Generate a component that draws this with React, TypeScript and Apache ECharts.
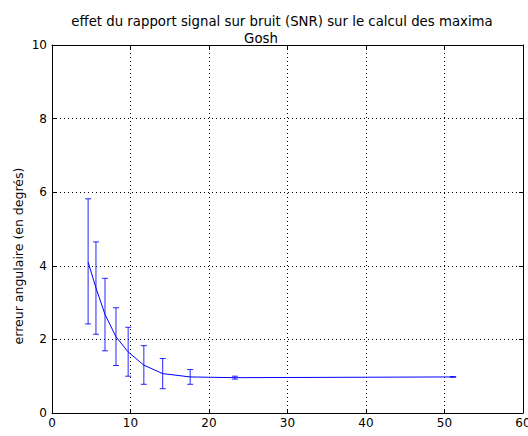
import React, { useEffect, useRef } from "react";
import * as echarts from "echarts";

const snr = [4.6, 5.6, 6.75, 8.15, 9.7, 11.7, 14.1, 17.6, 23.3, 51.1];
const meanErr = [4.1, 3.4, 2.68, 2.07, 1.66, 1.3, 1.07, 0.98, 0.96, 0.98];
const errLow = [2.42, 2.14, 1.69, 1.29, 1.0, 0.78, 0.66, 0.78, 0.92, 0.97];
const errHigh = [5.82, 4.65, 3.66, 2.86, 2.33, 1.83, 1.48, 1.18, 1.0, 0.99];
const xTicks = [0, 10, 20, 30, 40, 50, 60];
const yTicks = [0, 2, 4, 6, 8, 10];

const FONT = "DejaVu Sans";

export default function App() {
  const ref = useRef<HTMLDivElement>(null);
  useEffect(() => {
    const chart = echarts.init(ref.current!, null, { renderer: "svg" });
    const lineData = snr.map((x, i) => [x, meanErr[i]]);
    const errData = snr.map((x, i) => [x, errLow[i], errHigh[i]]);
    const axisCommon = {
      axisLine: { show: true, onZero: false, lineStyle: { color: "#000", width: 1 } },
      axisTick: { show: true, inside: true, length: 4, lineStyle: { color: "#000" } },
    };
    chart.setOption({
      animation: false,
      backgroundColor: "#fff",
      title: [
        {
          text: "effet du rapport signal sur bruit (SNR) sur le calcul des maxima",
          left: 282,
          top: 15,
          padding: 0,
          textAlign: "center",
          textStyle: { fontFamily: FONT, fontSize: 13.3, fontWeight: "normal", color: "#000" },
        },
        {
          text: "Gosh",
          left: 261,
          top: 31.5,
          padding: 0,
          textAlign: "center",
          textStyle: { fontFamily: FONT, fontSize: 13.3, fontWeight: "normal", color: "#000" },
        },
      ],
      graphic: [
        {
          type: "text",
          x: 18,
          y: 256,
          rotation: Math.PI / 2,
          style: {
            text: "erreur angulaire (en degrés)",
            fontFamily: FONT,
            fontSize: 12.5,
            fill: "#000",
            align: "center",
            verticalAlign: "middle",
          },
        },
      ],
      grid: { left: 52, top: 45, right: 5, bottom: 23, containLabel: false, outerBoundsMode: "none" },
      xAxis: [
        {
          type: "value",
          min: 0,
          max: 60,
          interval: 10,
          name: "SNR",
          nameLocation: "middle",
          nameGap: 17,
          nameTextStyle: { fontFamily: FONT, fontSize: 12.5, color: "#000", verticalAlign: "top" },
          ...axisCommon,
          axisLabel: { fontFamily: FONT, fontSize: 12, color: "#000", margin: 4, showMaxLabel: true },
          splitLine: { show: true, lineStyle: { color: "#000", type: [1, 3], width: 1 } },
        },
        {
          type: "value",
          position: "top",
          min: 0,
          max: 60,
          interval: 10,
          ...axisCommon,
          axisLabel: { show: false },
          splitLine: { show: false },
        },
      ],
      yAxis: [
        {
          type: "value",
          min: 0,
          max: 10,
          interval: 2,
          ...axisCommon,
          axisLabel: { fontFamily: FONT, fontSize: 12, color: "#000", margin: 5 },
          splitLine: { show: true, lineStyle: { color: "#000", type: [1, 3], width: 1 } },
        },
        {
          type: "value",
          position: "right",
          min: 0,
          max: 10,
          interval: 2,
          ...axisCommon,
          axisLabel: { show: false },
          splitLine: { show: false },
        },
      ],
      series: [
        {
          type: "line",
          data: lineData,
          showSymbol: false,
          symbol: "none",
          lineStyle: { color: "#0000ff", width: 1 },
          z: 3,
        },
        {
          type: "custom",
          data: errData,
          z: 2,
          renderItem: (params: any, api: any) => {
            const x = api.value(0);
            const lo = api.coord([x, api.value(1)]);
            const hi = api.coord([x, api.value(2)]);
            const cap = 3;
            const style = { stroke: "#0000ff", lineWidth: 1, opacity: 0.85 };
            return {
              type: "group",
              children: [
                { type: "line", shape: { x1: lo[0], y1: lo[1], x2: hi[0], y2: hi[1] }, style },
                { type: "line", shape: { x1: lo[0] - cap, y1: lo[1], x2: lo[0] + cap, y2: lo[1] }, style },
                { type: "line", shape: { x1: hi[0] - cap, y1: hi[1], x2: hi[0] + cap, y2: hi[1] }, style },
              ],
            };
          },
        },
      ],
    });
    return () => chart.dispose();
  }, []);
  return <div ref={ref} style={{ width: 528, height: 436, position: "absolute", left: 0, top: 0 }} />;
}
